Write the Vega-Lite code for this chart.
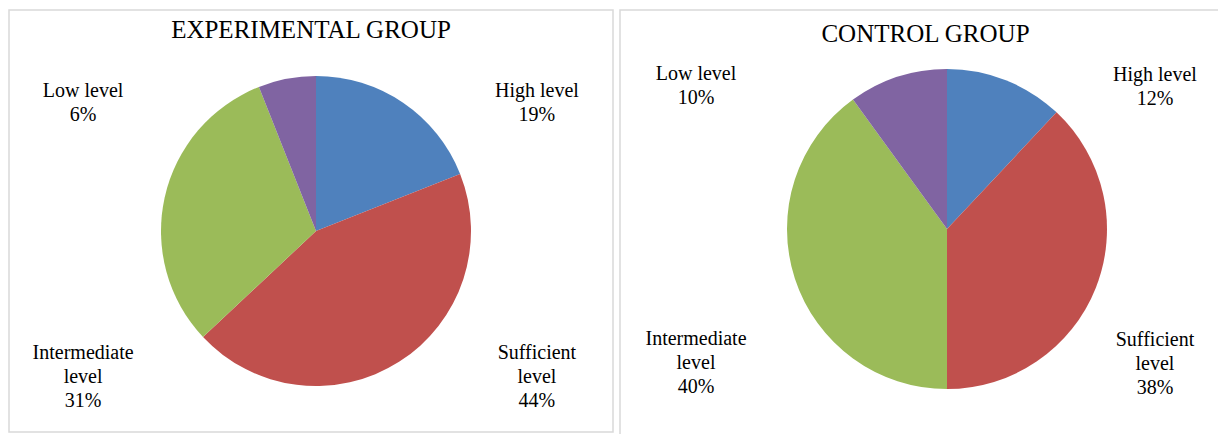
{
  "$schema": "https://vega.github.io/schema/vega-lite/v6.json",
  "background": "white",
  "padding": {"left": 8, "top": 9, "right": 0, "bottom": 0},
  "spacing": 5,
  "config": {
    "view": {"stroke": "#d9d9d9", "strokeWidth": 1.5},
    "font": "Liberation Serif",
    "text": {"font": "Liberation Serif"},
    "title": {"font": "Liberation Serif", "fontSize": 25, "fontWeight": "normal", "color": "#000000", "anchor": "middle", "frame": "group"}
  },
  "data": {
    "values": [
      {"group": "Experimental", "level": "High level", "value": 19},
      {"group": "Experimental", "level": "Sufficient level", "value": 44},
      {"group": "Experimental", "level": "Intermediate level", "value": 31},
      {"group": "Experimental", "level": "Low level", "value": 6},
      {"group": "Control", "level": "High level", "value": 12},
      {"group": "Control", "level": "Sufficient level", "value": 38},
      {"group": "Control", "level": "Intermediate level", "value": 40},
      {"group": "Control", "level": "Low level", "value": 10}
    ]
  },
  "hconcat": [
    {
      "width": 604,
      "height": 422,
      "view": {"stroke": "#d9d9d9", "strokeWidth": 1.5},
      "title": {"text": "EXPERIMENTAL GROUP", "offset": -33},
      "transform": [
        {"filter": "datum.group === 'Experimental'"},
        {"calculate": "indexof(['High level', 'Sufficient level', 'Intermediate level', 'Low level'], datum.level)", "as": "ord"},
        {"calculate": "length(datum.level) > 12 ? [split(datum.level, ' ')[0], split(datum.level, ' ')[1], datum.value + '%'] : [datum.level, datum.value + '%']", "as": "lines"}
      ],
      "layer": [
        {
          "mark": {"type": "arc", "radius": 155, "xOffset": 5, "yOffset": 10},
          "encoding": {
            "theta": {"field": "value", "type": "quantitative", "stack": true},
            "order": {"field": "ord", "type": "quantitative", "sort": "ascending"},
            "color": {
              "field": "level", "type": "nominal",
              "sort": ["High level", "Sufficient level", "Intermediate level", "Low level"],
              "scale": {"domain": ["High level", "Sufficient level", "Intermediate level", "Low level"], "range": ["#4F81BD", "#C0504D", "#9BBB59", "#8064A2"]},
              "legend": null
            }
          }
        },
        {
          "mark": {"type": "text", "radius": 262, "xOffset": -1, "yOffset": 1, "fontSize": 20, "lineHeight": 24, "font": "Liberation Serif", "align": "center", "baseline": "middle", "color": "#000000"},
          "encoding": {
            "theta": {"field": "level", "type": "nominal", "scale": {"type": "point", "domain": ["_top", "High level", "Sufficient level", "_bottom", "Intermediate level", "Low level"], "range": [0, 5.23599], "padding": 0}},
            "text": {"field": "lines", "type": "nominal"}
          }
        }
      ],
      "resolve": {"scale": {"theta": "independent"}}
    },
    {
      "width": 611,
      "height": 430,
      "view": {"stroke": "#d9d9d9", "strokeWidth": 1.5},
      "title": {"text": "CONTROL GROUP", "offset": -37},
      "transform": [
        {"filter": "datum.group === 'Control'"},
        {"calculate": "indexof(['High level', 'Sufficient level', 'Intermediate level', 'Low level'], datum.level)", "as": "ord"},
        {"calculate": "length(datum.level) > 12 ? [split(datum.level, ' ')[0], split(datum.level, ' ')[1], datum.value + '%'] : [datum.level, datum.value + '%']", "as": "lines"}
      ],
      "layer": [
        {
          "mark": {"type": "arc", "radius": 160, "xOffset": 21.5, "yOffset": 4},
          "encoding": {
            "theta": {"field": "value", "type": "quantitative", "stack": true},
            "order": {"field": "ord", "type": "quantitative", "sort": "ascending"},
            "color": {
              "field": "level", "type": "nominal",
              "sort": ["High level", "Sufficient level", "Intermediate level", "Low level"],
              "scale": {"domain": ["High level", "Sufficient level", "Intermediate level", "Low level"], "range": ["#4F81BD", "#C0504D", "#9BBB59", "#8064A2"]},
              "legend": null
            }
          }
        },
        {
          "mark": {"type": "text", "radius": 265, "xOffset": 0, "yOffset": -18, "fontSize": 20, "lineHeight": 24, "font": "Liberation Serif", "align": "center", "baseline": "middle", "color": "#000000"},
          "encoding": {
            "theta": {"field": "level", "type": "nominal", "scale": {"type": "point", "domain": ["_top", "High level", "Sufficient level", "_bottom", "Intermediate level", "Low level"], "range": [0, 5.23599], "padding": 0}},
            "text": {"field": "lines", "type": "nominal"}
          }
        }
      ],
      "resolve": {"scale": {"theta": "independent"}}
    }
  ]
}
